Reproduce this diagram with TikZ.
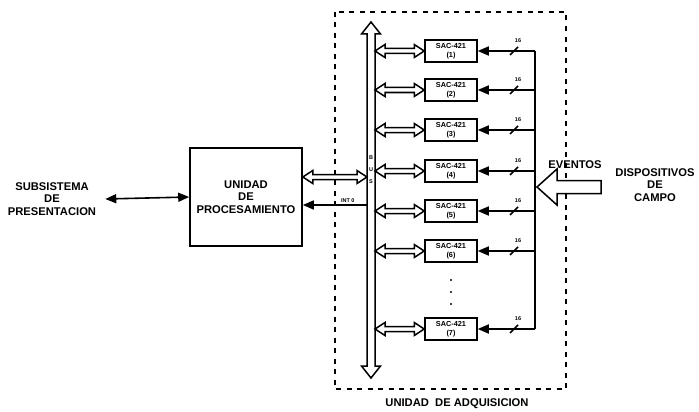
\documentclass[tikz,border=0pt]{standalone}
\usepackage{fontspec}
\setmainfont{Liberation Sans}
\usetikzlibrary{arrows.meta,calc}

% outlined (block) double-headed horizontal arrow between two points
\newcommand\hollowpair[2]{%
  \draw[hollow] let \p1=#1, \p2=#2 in
    (\x1,\y1) -- (\x1+10pt,\y1+6.5pt) -- (\x1+10pt,\y1+2.5pt)
    -- (\x2-10pt,\y1+2.5pt) -- (\x2-10pt,\y1+6.5pt) -- (\x2,\y1)
    -- (\x2-10pt,\y1-6.5pt) -- (\x2-10pt,\y1-2.5pt)
    -- (\x1+10pt,\y1-2.5pt) -- (\x1+10pt,\y1-6.5pt) -- cycle;}

\begin{document}
\begin{tikzpicture}[x=1pt,y=-1pt,
  lbl/.style={font=\bfseries\fontsize{11.2}{12.5}\selectfont, align=center, inner sep=0pt},
  procbox/.style={draw, line width=1.6pt, minimum width=112pt, minimum height=98pt,
    inner sep=0pt, align=center, font=\bfseries\fontsize{11.2}{12.5}\selectfont},
  sacbox/.style={draw, line width=1.5pt, minimum width=52pt, minimum height=22pt,
    inner sep=0pt, align=center, font=\bfseries\fontsize{7.3}{9}\selectfont},
  wire/.style={line width=1.6pt},
  hollow/.style={line width=1.5pt, fill=white, line join=miter},
  solidtip/.style={-{Triangle[length=11pt,width=9pt]}},
  tiny/.style={font=\bfseries\fontsize{5.5}{6}\selectfont, inner sep=0pt},
  frame/.style={line width=1.5pt, dash pattern=on 5pt off 5.5pt}
]
\useasboundingbox (0,0) rectangle (699,412);

% acquisition unit frame
\draw[frame] (335,12) rectangle (566,389);
\node[lbl] (adq) at (457,404) {UNIDAD\ \ DE ADQUISICION};

% left side
\node[lbl] (pres) at (52,199) {SUBSISTEMA\\DE\\PRESENTACION};
\node[procbox] (proc) at (246,197) {UNIDAD\\DE\\PROCESAMIENTO};
\draw[wire, {Triangle[length=11pt,width=9pt]}-{Triangle[length=11pt,width=9pt]}]
  ($(pres.east)+(9,0)$) -- (proc.west);

% system bus
\coordinate (busL) at (367,0);
\coordinate (busR) at (375,0);
\draw[hollow] (371,22) -- (380.5,34) -- (375,34) -- (375,366) -- (380.5,366)
  -- (371,378) -- (361.5,366) -- (367,366) -- (367,34) -- (361.5,34) -- cycle;
\node[tiny] (bb) at (371,158) {B};
\node[tiny] (bu) at (371,170) {U};
\node[tiny] (bs) at (371,182) {S};

% processing unit to bus
\coordinate (pa) at ($(proc.east)+(0,-20)$);
\coordinate (pb) at ($(proc.east)+(0,8)$);
\hollowpair{(pa)}{(busL |- pa)}
\draw[wire, solidtip] (busL |- pb) -- (pb);
\node[tiny, anchor=south] (int) at ($(pb)+(45,-2)$) {INT 0};

% acquisition boards
\node[sacbox] (s1) at (451,51)  {SAC-421\\(1)};
\node[sacbox] (s2) at (451,90)  {SAC-421\\(2)};
\node[sacbox] (s3) at (451,130) {SAC-421\\(3)};
\node[sacbox] (s4) at (451,171) {SAC-421\\(4)};
\node[sacbox] (s5) at (451,211) {SAC-421\\(5)};
\node[sacbox] (s6) at (451,251) {SAC-421\\(6)};
\node[sacbox] (s7) at (451,329) {SAC-421\\(7)};
\foreach \i in {280,292,304} \fill (451,\i) circle (1.1pt);

% field input rail
\coordinate (rail) at (535,0);
\draw[wire] (rail |- s1.east) -- (rail |- s7.east);
\foreach \s in {s1,s2,s3,s4,s5,s6,s7} {
  \hollowpair{(busR |- \s.west)}{(\s.west)}
  \draw[wire, solidtip] (rail |- \s.east) -- (\s.east);
  \draw[wire] ($(rail |- \s.east)+(-25,4)$) -- ++(8,-8);
  \node[tiny] at ($(rail |- \s.east)+(-17,-10)$) {16};
}

% field devices
\node[lbl] (ev) at (575,165) {EVENTOS};
\node[lbl] (disp) at (655,185) {DISPOSITIVOS\\DE\\CAMPO};
\draw[hollow] (537,187) -- (557,169) -- (557,180.5) -- (601,180.5) -- (601,193.5)
  -- (557,193.5) -- (557,205) -- cycle;
\end{tikzpicture}
\end{document}
